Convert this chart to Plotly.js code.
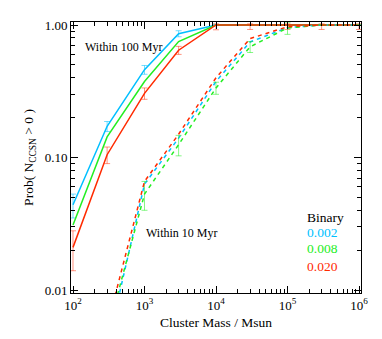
<!DOCTYPE html>
<html>
<head>
<meta charset="utf-8">
<script src="https://cdn.plot.ly/plotly-3.0.1.min.js"></script>
<style>html,body{margin:0;padding:0;background:#fff;}#chart{width:382px;height:339px;}</style>
</head>
<body>
<div id="chart"></div>
<script>
// Cluster masses (Msun)
var mass = [100, 300, 1000, 3000, 10000, 30000, 100000, 300000, 1000000];

// Within 100 Myr (solid)
var p100_z002 = [0.044, 0.172, 0.46, 0.86, 1.0, 1.0, 1.0, 1.0, 1.0];
var p100_z008 = [0.031, 0.143, 0.375, 0.75, 1.0, 1.0, 1.0, 1.0, 1.0];
var p100_z020 = [0.021, 0.105, 0.305, 0.645, 1.0, 1.0, 1.0, 1.0, 1.0];
var err100_z002 = [0.009, 0.015, 0.035, 0.045, 0.01, 0, 0, 0, 0];
var err100_z020_up = [0.007, 0.015, 0.03, 0.045, 0.02, 0.02, 0.02, 0.02, 0.02];
var err100_z020_dn = [0.007, 0.015, 0.03, 0.045, 0.08, 0.075, 0.075, 0.075, 0.075];

// Within 10 Myr (dashed)
var p10_z002 = [null, 0.0037, 0.063, 0.14, 0.375, 0.745, 0.955, 1.0, 1.0];
var p10_z008 = [null, 0.0047, 0.053, 0.125, 0.335, 0.685, 0.95, 1.0, 1.0];
var p10_z020 = [null, 0.0053, 0.066, 0.15, 0.40, 0.79, 0.97, 1.0, 1.0];
var err10_z008 = [0, 0, 0.013, 0.022, 0.035, 0.065, 0.1, 0, 0];

var xTickVals = [100, 1000, 10000, 100000, 1000000];
var xTickText = ['10<sup>2</sup>', '10<sup>3</sup>', '10<sup>4</sup>', '10<sup>5</sup>', '10<sup>6</sup>'];
var yTickVals = [0.01, 0.1, 1];
var yTickText = ['0.01', '0.10', '1.00'];

var legendTitle = 'Binary';
var legendLabels = ['0.002', '0.008', '0.020'];

var cBlue = '#00bfff', cGreen = '#22ee22', cRed = '#ff2a00';
var eBlue = 'rgba(0,191,255,0.55)', eGreen = 'rgba(34,238,34,0.55)', eRed = 'rgba(255,42,0,0.5)';

function minorVals(lo, hi) {
  var v = [];
  for (var e = lo; e < hi; e++) for (var k = 2; k <= 9; k++) v.push(k * Math.pow(10, e));
  return v;
}

var traces = [
  {x: mass, y: p100_z002, mode: 'lines', line: {color: cBlue, width: 1.5},
   error_y: {type: 'data', array: err100_z002, color: eBlue, thickness: 1, width: 3}},
  {x: mass, y: p100_z008, mode: 'lines', line: {color: cGreen, width: 1.5}},
  {x: mass, y: p100_z020, mode: 'lines', line: {color: cRed, width: 1.5},
   error_y: {type: 'data', symmetric: false, array: err100_z020_up, arrayminus: err100_z020_dn, color: eRed, thickness: 1, width: 3}},
  {x: mass, y: p10_z002, mode: 'lines', line: {color: cBlue, width: 1.5, dash: '4px,4px'}},
  {x: mass, y: p10_z008, mode: 'lines', line: {color: cGreen, width: 1.5, dash: '4px,4px'},
   error_y: {type: 'data', array: err10_z008, color: eGreen, thickness: 1, width: 3}},
  {x: mass, y: p10_z020, mode: 'lines', line: {color: cRed, width: 1.5, dash: '4px,4px'}}
];

var font = {family: 'Liberation Serif, Times New Roman, serif', color: '#000'};

function ann(text, x, y, color, size) {
  return {text: text, xref: 'paper', yref: 'paper', x: x, y: y, xanchor: 'left', yanchor: 'middle',
          showarrow: false, font: {family: font.family, color: color, size: size}};
}

var layout = {
  width: 382, height: 339,
  margin: {l: 71, r: 21, t: 22, b: 46},
  paper_bgcolor: '#fff', plot_bgcolor: '#fff',
  showlegend: false,
  font: {family: font.family, size: 12, color: '#000'},
  xaxis: {
    type: 'log', range: [1.972, 6.028], showgrid: false, zeroline: false,
    showline: true, linecolor: '#000', linewidth: 1, mirror: 'allticks',
    ticks: 'inside', ticklen: 7, tickcolor: '#000',
    tickmode: 'array', tickvals: xTickVals, ticktext: xTickText,
    tickfont: {family: font.family, size: 13},
    minor: {tickmode: 'array', tickvals: minorVals(2, 6), ticks: 'inside', ticklen: 4, tickcolor: '#000', showgrid: false},
    title: {text: 'Cluster Mass / Msun', font: {family: font.family, size: 13.5}, standoff: 5}
  },
  yaxis: {
    type: 'log', range: [-2.022, 0.0226], showgrid: false, zeroline: false,
    showline: true, linecolor: '#000', linewidth: 1, mirror: 'allticks',
    ticks: 'inside', ticklen: 7, tickcolor: '#000',
    tickmode: 'array', tickvals: yTickVals, ticktext: yTickText,
    tickfont: {family: font.family, size: 13},
    minor: {tickmode: 'array', tickvals: minorVals(-3, 1), ticks: 'inside', ticklen: 4, tickcolor: '#000', showgrid: false},
    title: {text: 'Prob( N<sub>CCSN</sub> > 0 )', font: {family: font.family, size: 13.5}, standoff: 7}
  },
  annotations: [
    ann('Within 100 Myr', 0.04, 0.908, '#000', 12),
    ann('Within 10 Myr', 0.25, 0.221, '#000', 12),
    ann(legendTitle, 0.806, 0.277, '#000', 13.5),
    ann(legendLabels[0], 0.806, 0.222, cBlue, 13.5),
    ann(legendLabels[1], 0.806, 0.163, cGreen, 13.5),
    ann(legendLabels[2], 0.806, 0.098, cRed, 13.5)
  ]
};

Plotly.newPlot('chart', traces, layout, {displayModeBar: false, staticPlot: true});
</script>
</body>
</html>
